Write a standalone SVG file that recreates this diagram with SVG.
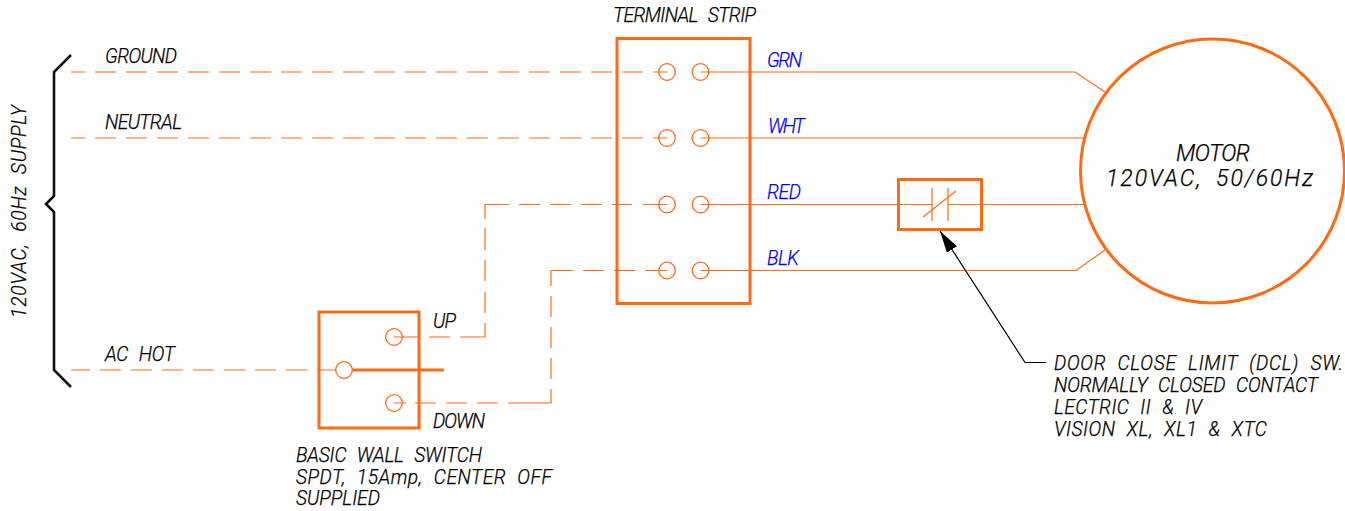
<svg xmlns="http://www.w3.org/2000/svg" width="1345" height="511" viewBox="0 0 1345 511">
<style>
text{font-family:"Roboto","Liberation Sans",sans-serif;font-style:italic;font-weight:300;font-size:19.300px;word-spacing:6px;fill:#000;stroke:#000;stroke-width:.25}
.b{fill:#0000ff;stroke:#0000ff}
.big{font-size:23px}
.w{fill:none;stroke:#ff6a13;stroke-width:1.200}
.d{stroke-dasharray:21 10;stroke-dashoffset:7}
.t{fill:none;stroke:#ff6a13;stroke-width:3}
.c{fill:#fff;stroke:#ff6a13;stroke-width:1.300}
</style>
<defs><marker id="ah" markerUnits="userSpaceOnUse" markerWidth="24" markerHeight="14" refX="22" refY="6" orient="auto"><path d="M0 0L22 6L0 12Z" fill="#000"/></marker></defs>
<rect width="1345" height="511" fill="#fff"/>
<g id="connectors">
<path class="w d" d="M71 72H667"/>
<path class="w d" d="M71 138H667"/>
<path class="w" stroke-dasharray="21 10" stroke-dashoffset="2" d="M71 370H338"/>
<path class="w" d="M394 337H419M429 337H450M460 337H485V323M485 313V292M485 281V260M485 250V228M485 219V204.500H509M519 204.500H540M550 204.500H571M581 204.500H602M612 204.500H632M643 204.500H667"/>
<path class="w" d="M394 403H406M415 403H436M446 403H467M477 403H498M508 403H551V389M551 379V358M551 348V327M551 317V296M551 286V270.500H573M583 270.500H604M614 270.500H635M645 270.500H667"/>
<path class="w" d="M700.500 72H1075L1105 92"/>
<path class="w" d="M700.500 138H1084"/>
<path class="w" d="M700.500 204.500H932M948 204.500H1085"/>
<path class="w" d="M700.500 270.500H1076L1105 250"/>
<path d="M1046 362.500H1025L940 231" fill="none" stroke="#000" stroke-width="1.200" marker-end="url(#ah)"/>
</g>
<g id="supply-brace">
<path d="M71 55L54 72V196L46 204L54 212V370L71 387" fill="none" stroke="#111" stroke-width="2.600"/>
<text transform="translate(26 318) rotate(-90)" textLength="213" lengthAdjust="spacing">120VAC, 60Hz SUPPLY</text>
</g>
<g id="labels-supply">
<text x="105" y="63" textLength="72">GROUND</text>
<text x="105" y="129" textLength="77">NEUTRAL</text>
<text x="105" y="361" textLength="70">AC HOT</text>
</g>
<g id="wall-switch">
<rect class="t" x="319" y="312" width="100" height="116"/>
<path class="t" d="M352 370H444"/>
<circle class="c" cx="394" cy="337" r="8.300" style="fill:none"/>
<circle class="c" cx="344" cy="370" r="8.300"/>
<circle class="c" cx="394" cy="403" r="8.300" style="fill:none"/>
<text x="433" y="328" textLength="23">UP</text>
<text x="433" y="428" textLength="52">DOWN</text>
<text x="296" y="462" textLength="186">BASIC WALL SWITCH</text>
<text x="296" y="484" textLength="256">SPDT, 15Amp, CENTER OFF</text>
<text x="296" y="505" textLength="84">SUPPLIED</text>
</g>
<g id="terminal-strip">
<rect class="t" x="617" y="38.500" width="133" height="265"/>
<g style="fill:none;stroke:#ff6a13;stroke-width:1.300">
<circle cx="667" cy="72" r="8.300"/><circle cx="700.500" cy="72" r="8.300"/>
<circle cx="667" cy="138" r="8.300"/><circle cx="700.500" cy="138" r="8.300"/>
<circle cx="667" cy="204.500" r="8.300"/><circle cx="700.500" cy="204.500" r="8.300"/>
<circle cx="667" cy="270.500" r="8.300"/><circle cx="700.500" cy="270.500" r="8.300"/>
</g>
<text x="613" y="22" textLength="143">TERMINAL STRIP</text>
<text class="b" x="767" y="67" textLength="35">GRN</text>
<text class="b" x="768" y="133" textLength="37">WHT</text>
<text class="b" x="767" y="199" textLength="34">RED</text>
<text class="b" x="767" y="265" textLength="32">BLK</text>
</g>
<g id="dcl-contact">
<rect class="t" x="898.500" y="179.500" width="83" height="50"/>
<path class="w" d="M932 188V221M948 188V221M923 217L956 191"/>
</g>
<g id="motor">
<circle cx="1212.500" cy="171" r="132" fill="none" stroke="#ff6a13" stroke-width="3"/>
<text class="big" x="1176" y="161" textLength="74">MOTOR</text>
<text class="big" x="1106" y="186" textLength="207">120VAC, 50/60Hz</text>
</g>
<g id="dcl-note">
<text x="1054" y="370" textLength="289">DOOR CLOSE LIMIT (DCL) SW.</text>
<text x="1054" y="392" textLength="264">NORMALLY CLOSED CONTACT</text>
<text x="1054" y="414" textLength="148">LECTRIC II &amp; IV</text>
<text x="1054" y="436" textLength="213">VISION XL, XL1 &amp; XTC</text>
</g>
</svg>
